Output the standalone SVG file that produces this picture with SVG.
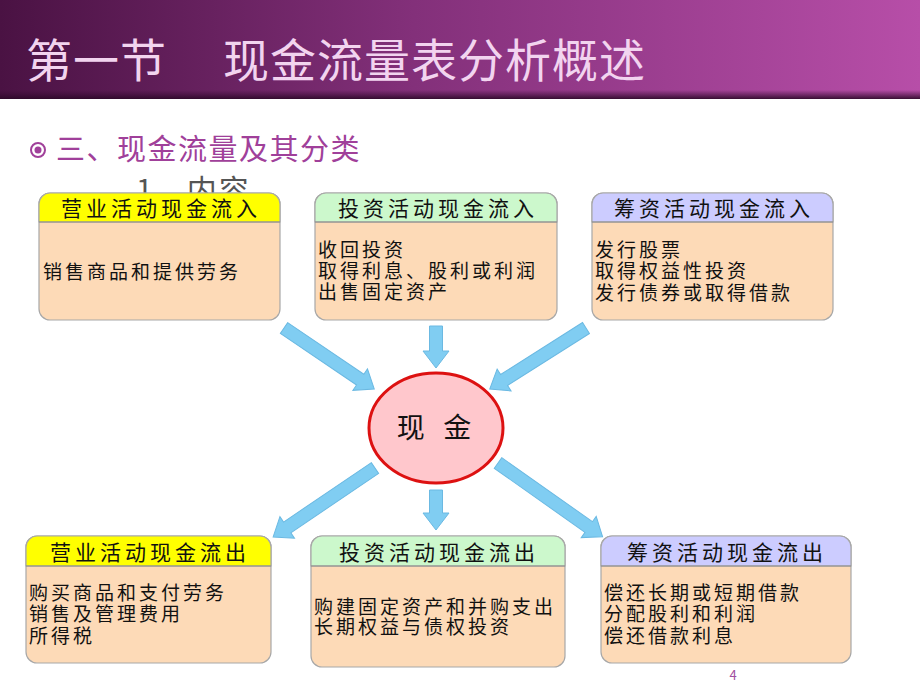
<svg xmlns="http://www.w3.org/2000/svg" width="920" height="690" viewBox="0 0 920 690">
<defs>
<linearGradient id="bar" x1="0" y1="0" x2="1" y2="0">
<stop offset="0" stop-color="#4a1243"/>
<stop offset="0.45" stop-color="#83307a"/>
<stop offset="1" stop-color="#b74ea8"/>
</linearGradient>
<linearGradient id="shadow" x1="0" y1="0" x2="0" y2="1">
<stop offset="0" stop-color="#3a0c35" stop-opacity="0"/>
<stop offset="1" stop-color="#2a0826" stop-opacity="0.9"/>
</linearGradient>
<clipPath id="clipSub"><rect x="0" y="165" width="920" height="28"/></clipPath>
<style>
text{font-family:"Noto Sans CJK SC","Noto Sans",sans-serif;}
.box{fill:#fddab7;stroke:#a8a8a8;stroke-width:1.2;}
.sep{stroke:#8a8a8a;stroke-width:1.2;}
.hd{font-size:21px;letter-spacing:4px;fill:#111;text-anchor:middle;}
.bd{font-size:19px;letter-spacing:3px;fill:#111;}
.arr{fill:#80cdf2;stroke:#6bb9e2;stroke-width:1;}
</style>
</defs>
<rect x="0" y="0" width="920" height="690" fill="#ffffff"/>
<g id="title">
<rect x="0" y="0" width="920" height="99" fill="url(#bar)"/>
<rect x="0" y="90" width="920" height="9" fill="url(#shadow)"/>
<text x="26" y="77" font-size="46" fill="#f2d4ef" letter-spacing="1">第一节<tspan x="223">现金流量表分析概述</tspan></text>
</g>
<g id="subtitle">
<circle cx="38" cy="150" r="7" fill="none" stroke="#a0409a" stroke-width="2"/>
<circle cx="38" cy="150" r="3.5" fill="#a0409a"/>
<text x="56" y="160" font-size="29" fill="#a0409a" letter-spacing="1.5">三、现金流量及其分类</text>
<text x="136" y="201" font-size="30" fill="#555555" letter-spacing="2" clip-path="url(#clipSub)">1、内容</text>
</g>
<g id="connectors">
<polygon class="arr" transform="translate(284,328) rotate(34.1)" points="0,-6.5 92,-6.5 92,-13 109,0 92,13 92,6.5 0,6.5"/>
<polygon class="arr" transform="translate(436,326) rotate(90)" points="0,-6.5 25,-6.5 25,-13 42,0 25,13 25,6.5 0,6.5"/>
<polygon class="arr" transform="translate(586,328) rotate(147.6)" points="0,-6.5 97,-6.5 97,-13 114,0 97,13 97,6.5 0,6.5"/>
<polygon class="arr" transform="translate(375,468) rotate(145.9)" points="0,-6.5 106,-6.5 106,-13 123,0 106,13 106,6.5 0,6.5"/>
<polygon class="arr" transform="translate(436,490) rotate(90)" points="0,-6.5 23,-6.5 23,-13 40,0 23,13 23,6.5 0,6.5"/>
<polygon class="arr" transform="translate(498,463) rotate(35.2)" points="0,-6.5 111,-6.5 111,-13 128,0 111,13 111,6.5 0,6.5"/>
</g>
<g id="op-in">
<rect class="box" x="39" y="193" width="241" height="127" rx="11"/>
<path d="M39,222 V204 A11,11 0 0 1 50,193 H269 A11,11 0 0 1 280,204 V222 Z" fill="#ffff00" stroke="#a8a8a8" stroke-width="1.2"/>
<line class="sep" x1="39" y1="222" x2="280" y2="222"/>
<text class="hd" x="161" y="216">营业活动现金流入</text>
<text class="bd" x="43" y="279">销售商品和提供劳务</text>
</g>
<g id="inv-in">
<rect class="box" x="315" y="193" width="242" height="127" rx="11"/>
<path d="M315,222 V204 A11,11 0 0 1 326,193 H546 A11,11 0 0 1 557,204 V222 Z" fill="#ccf8cc" stroke="#a8a8a8" stroke-width="1.2"/>
<line class="sep" x1="315" y1="222" x2="557" y2="222"/>
<text class="hd" x="438" y="216">投资活动现金流入</text>
<text class="bd" x="318" y="257">收回投资<tspan x="318" dy="21">取得利息、股利或利润</tspan><tspan x="318" dy="21">出售固定资产</tspan></text>
</g>
<g id="fin-in">
<rect class="box" x="592" y="193" width="241" height="127" rx="11"/>
<path d="M592,222 V204 A11,11 0 0 1 603,193 H822 A11,11 0 0 1 833,204 V222 Z" fill="#ccccff" stroke="#a8a8a8" stroke-width="1.2"/>
<line class="sep" x1="592" y1="222" x2="833" y2="222"/>
<text class="hd" x="714" y="216">筹资活动现金流入</text>
<text class="bd" x="595" y="257">发行股票<tspan x="595" dy="21">取得权益性投资</tspan><tspan x="595" dy="22">发行债券或取得借款</tspan></text>
</g>
<g id="cash">
<ellipse cx="436" cy="428" rx="67" ry="55" fill="#ffc7cc" stroke="#dd1111" stroke-width="3"/>
<text x="437" y="438" font-size="28" text-anchor="middle" fill="#111" letter-spacing="6">现 金</text>
</g>
<g id="op-out">
<rect class="box" x="26" y="536" width="245" height="127" rx="11"/>
<path d="M26,566 V547 A11,11 0 0 1 37,536 H260 A11,11 0 0 1 271,547 V566 Z" fill="#ffff00" stroke="#a8a8a8" stroke-width="1.2"/>
<line class="sep" x1="26" y1="566" x2="271" y2="566"/>
<text class="hd" x="150" y="560">营业活动现金流出</text>
<text class="bd" x="29" y="600">购买商品和支付劳务<tspan x="29" dy="21">销售及管理费用</tspan><tspan x="29" dy="22">所得税</tspan></text>
</g>
<g id="inv-out">
<rect class="box" x="311" y="536" width="254" height="131" rx="11"/>
<path d="M311,566 V547 A11,11 0 0 1 322,536 H554 A11,11 0 0 1 565,547 V566 Z" fill="#ccf8cc" stroke="#a8a8a8" stroke-width="1.2"/>
<line class="sep" x1="311" y1="566" x2="565" y2="566"/>
<text class="hd" x="439" y="560">投资活动现金流出</text>
<text class="bd" x="314" y="614">购建固定资产和并购支出<tspan x="314" dy="20">长期权益与债权投资</tspan></text>
</g>
<g id="fin-out">
<rect class="box" x="601" y="536" width="250" height="127" rx="11"/>
<path d="M601,566 V547 A11,11 0 0 1 612,536 H840 A11,11 0 0 1 851,547 V566 Z" fill="#ccccff" stroke="#a8a8a8" stroke-width="1.2"/>
<line class="sep" x1="601" y1="566" x2="851" y2="566"/>
<text class="hd" x="727" y="560">筹资活动现金流出</text>
<text class="bd" x="604" y="600">偿还长期或短期借款<tspan x="604" dy="21">分配股利和利润</tspan><tspan x="604" dy="22">偿还借款利息</tspan></text>
</g>
<text x="733" y="680" font-size="13" fill="#a050a0" text-anchor="middle" font-family="Liberation Sans, sans-serif">4</text>
</svg>
